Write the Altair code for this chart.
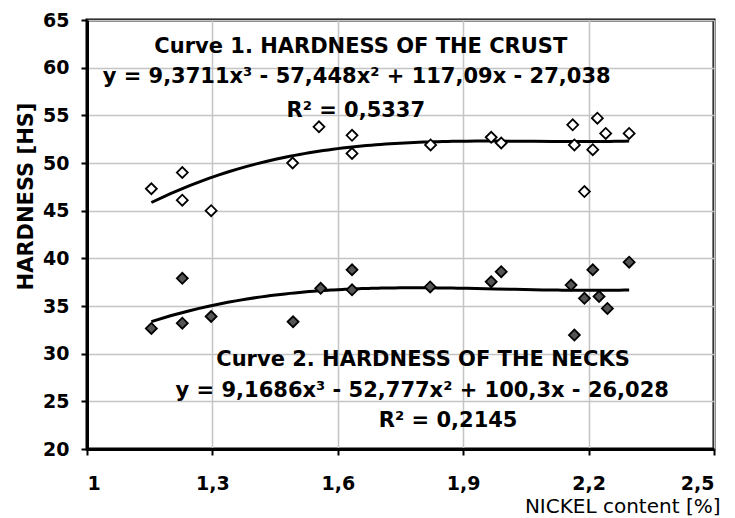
import altair as alt
import pandas as pd

# Curve 1 - hardness of the crust
crust_x = [1.154, 1.228, 1.228, 1.297, 1.492, 1.555, 1.634, 1.634, 1.822, 1.967, 1.991,
           2.162, 2.166, 2.19, 2.21, 2.221, 2.241, 2.297]
crust_y = [47.3, 49.0, 46.1, 45.0, 50.0, 53.8, 52.9, 51.0, 51.9, 52.7, 52.1,
           54.0, 51.9, 47.0, 51.4, 54.7, 53.1, 53.1]

# Curve 2 - hardness of the necks
necks_x = [1.154, 1.228, 1.228, 1.297, 1.493, 1.559, 1.634, 1.634, 1.821, 1.967, 1.991,
           2.158, 2.166, 2.19, 2.21, 2.225, 2.245, 2.297]
necks_y = [32.65, 37.9, 33.2, 33.9, 33.35, 36.85, 38.8, 36.7, 37.0, 37.55, 38.6,
           37.2, 31.95, 35.8, 38.8, 36.0, 34.75, 39.6]

x_ticks = [1, 1.3, 1.6, 1.9, 2.2, 2.5]
y_ticks = [20, 25, 30, 35, 40, 45, 50, 55, 60, 65]

ann_text = ["Curve 1. HARDNESS OF THE CRUST",
            "y = 9,3711x³ - 57,448x² + 117,09x - 27,038",
            "R² = 0,5337",
            "Curve 2. HARDNESS OF THE NECKS",
            "y = 9,1686x³ - 52,777x² + 100,3x - 26,028",
            "R² = 0,2145"]
ann_x = [1.655, 1.645, 1.643, 1.804, 1.802, 1.864]
ann_y = [61.54, 58.39, 54.83, 28.70, 25.45, 22.31]

crust = pd.DataFrame({"x": crust_x, "y": crust_y})
necks = pd.DataFrame({"x": necks_x, "y": necks_y})
ann = pd.DataFrame({"text": ann_text, "x": ann_x, "y": ann_y})

FONT = "DejaVu Sans"

xscale = alt.Scale(domain=[1, 2.5], nice=False, zero=False)
yscale = alt.Scale(domain=[20, 65], nice=False, zero=False)

xaxis = alt.Axis(values=x_ticks, labelExpr="replace(format(datum.value, '~g'), '.', ',')",
                 title="NICKEL content [%]", titleFont=FONT, titleFontSize=20,
                 titleFontWeight="normal", titleColor="black",
                 titleX=633, titleY=63, titleAlign="right", titleAnchor="end",
                 titleBaseline="alphabetic",
                 labelFont=FONT, labelFontSize=19, labelFontWeight="bold", labelColor="black",
                 labelPadding=19, tickSize=6, tickColor="black", tickWidth=2,
                 domainColor="black", domainWidth=3,
                 grid=True, gridColor="#c4c4c4", gridWidth=1.5)
yaxis = alt.Axis(values=y_ticks, format="d",
                 title="HARDNESS [HS]", titleFont=FONT, titleFontSize=21,
                 titleFontWeight="bold", titleColor="black",
                 titleAngle=270, titleX=-55, titleY=176, titleAlign="center",
                 titleBaseline="alphabetic",
                 labelFont=FONT, labelFontSize=19, labelFontWeight="bold", labelColor="black",
                 labelPadding=12, tickSize=6, tickColor="black", tickWidth=2,
                 domainColor="black", domainWidth=3,
                 grid=True, gridColor="#c4c4c4", gridWidth=1.5)

base_c = alt.Chart(crust)
base_n = alt.Chart(necks)

pts_c = base_c.mark_point(shape="diamond", filled=True, size=120, fill="white",
                          stroke="black", strokeWidth=1.8, opacity=1).encode(
    x=alt.X("x:Q", scale=xscale, axis=xaxis),
    y=alt.Y("y:Q", scale=yscale, axis=yaxis))

pts_n = base_n.mark_point(shape="diamond", filled=True, size=120, fill="#555555",
                          stroke="black", strokeWidth=1.8, opacity=1).encode(
    x=alt.X("x:Q", scale=xscale),
    y=alt.Y("y:Q", scale=yscale))

line_c = base_c.transform_regression("x", "y", method="poly", order=3,
                                     extent=[1.154, 2.297]).mark_line(
    color="black", strokeWidth=3).encode(
    x=alt.X("x:Q", scale=xscale), y=alt.Y("y:Q", scale=yscale))

line_n = base_n.transform_regression("x", "y", method="poly", order=3,
                                     extent=[1.154, 2.297]).mark_line(
    color="black", strokeWidth=3).encode(
    x=alt.X("x:Q", scale=xscale), y=alt.Y("y:Q", scale=yscale))

texts = alt.Chart(ann).mark_text(font=FONT, fontSize=21, fontWeight="bold",
                                 color="black", align="center",
                                 baseline="alphabetic").encode(
    x=alt.X("x:Q", scale=xscale), y=alt.Y("y:Q", scale=yscale), text="text:N")

chart = alt.layer(line_c, line_n, pts_c, pts_n, texts).properties(
    width=627, height=429,
    autosize=alt.AutoSizeParams(type="none"),
    padding={"left": 79, "top": 12, "right": 13, "bottom": 70},
    background="white",
).configure_view(stroke="black", strokeWidth=3)

chart.save("out.html", embed_options={"renderer": "svg", "actions": False})
